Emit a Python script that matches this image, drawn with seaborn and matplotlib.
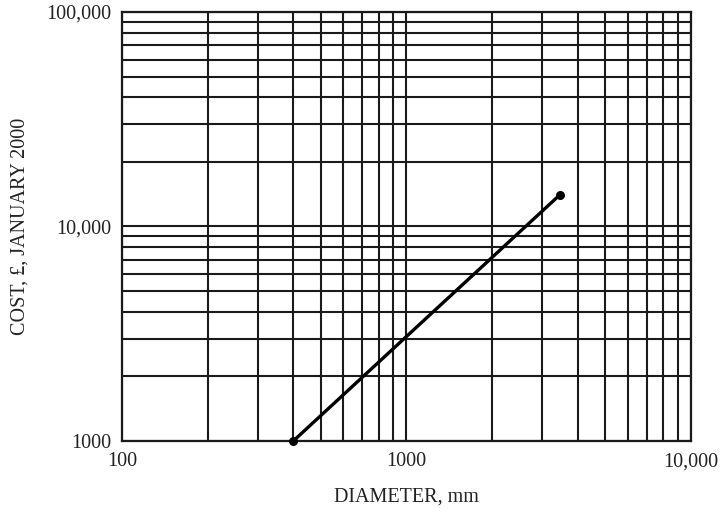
import matplotlib
matplotlib.use("Agg")
import matplotlib.pyplot as plt
import matplotlib.ticker as mticker
import seaborn as sns
import pandas as pd

diameter_mm = [400, 3450]
cost_gbp = [1000, 14000]

x_ticks = [100, 1000, 10000]
x_tick_labels = ["100", "1000", "10,000"]
y_ticks = [1000, 10000, 100000]
y_tick_labels = ["1000", "10,000", "100,000"]

sns.set_style("white")
plt.rcParams["font.family"] = ["Liberation Serif", "DejaVu Serif"]

fig = plt.figure(figsize=(7.21, 5.12), dpi=100)
ax = fig.add_axes([0.1692, 0.1387, 0.7892, 0.8379])

df = pd.DataFrame({"d": diameter_mm, "c": cost_gbp})
sns.lineplot(data=df, x="d", y="c", ax=ax, color="black", linewidth=2.4,
             marker="o", markersize=6.5, markeredgewidth=0, zorder=5, clip_on=False)

ax.set_xscale("log")
ax.set_yscale("log")
ax.set_xlim(100, 10000)
ax.set_ylim(1000, 100000)

ax.xaxis.set_major_locator(mticker.FixedLocator(x_ticks))
ax.xaxis.set_major_formatter(mticker.FixedFormatter(x_tick_labels))
ax.yaxis.set_major_locator(mticker.FixedLocator(y_ticks))
ax.yaxis.set_major_formatter(mticker.FixedFormatter(y_tick_labels))
ax.xaxis.set_minor_locator(mticker.LogLocator(base=10, subs=range(2, 10)))
ax.yaxis.set_minor_locator(mticker.LogLocator(base=10, subs=range(2, 10)))
ax.xaxis.set_minor_formatter(mticker.NullFormatter())
ax.yaxis.set_minor_formatter(mticker.NullFormatter())

ax.grid(True, which="both", color="#1a1a1a", linewidth=1.5)
ax.tick_params(which="both", length=0, labelsize=14.5, colors="#222222")
ax.tick_params(axis="x", pad=8)
ax.tick_params(axis="y", pad=8)
for s in ax.spines.values():
    s.set_visible(True)
    s.set_color("#1a1a1a")
    s.set_linewidth(1.6)

ax.set_xlabel("DIAMETER, mm", fontsize=14.5, color="#222222", labelpad=12)
ax.set_ylabel("COST, £, JANUARY 2000", fontsize=14.5, color="#222222", labelpad=12)

fig.savefig("out.png", dpi=100)
